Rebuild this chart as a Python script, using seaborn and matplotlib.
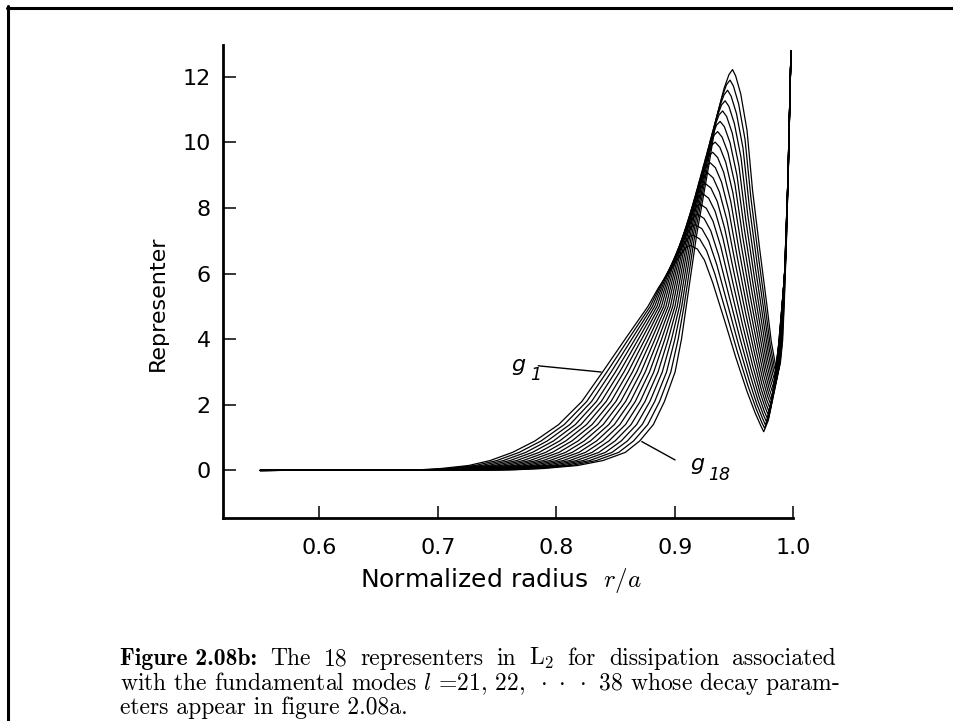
import matplotlib
matplotlib.use("Agg")
import matplotlib.pyplot as plt
from matplotlib.lines import Line2D
import pandas as pd
import seaborn as sns

# ---------------- data ----------------
CURVES = [f"g{k}" for k in range(1, 19)]
START_X, START_Y = 0.55, 0.0
END_X, END_Y = 0.998, 12.8

# rising flank: radius where each representer reaches the given level
RISE_Y = [0.02, 0.06, 0.15, 0.30, 0.55, 0.90, 1.40, 2.10, 3.00, 4.00, 5.00]
RX_002 = [0.6850, 0.6897, 0.6944, 0.6991, 0.7038, 0.7085, 0.7132, 0.7179, 0.7226, 0.7273, 0.7320, 0.7367, 0.7414, 0.7461, 0.7508, 0.7555, 0.7602, 0.7649]
RX_006 = [0.7030, 0.7081, 0.7132, 0.7183, 0.7234, 0.7285, 0.7336, 0.7387, 0.7438, 0.7489, 0.7540, 0.7591, 0.7642, 0.7693, 0.7744, 0.7795, 0.7846, 0.7897]
RX_015 = [0.7260, 0.7314, 0.7368, 0.7422, 0.7476, 0.7530, 0.7584, 0.7638, 0.7692, 0.7746, 0.7800, 0.7854, 0.7908, 0.7962, 0.8016, 0.8070, 0.8124, 0.8178]
RX_030 = [0.7440, 0.7496, 0.7552, 0.7608, 0.7664, 0.7720, 0.7776, 0.7832, 0.7888, 0.7944, 0.8000, 0.8056, 0.8112, 0.8168, 0.8224, 0.8280, 0.8336, 0.8392]
RX_055 = [0.7630, 0.7686, 0.7742, 0.7798, 0.7854, 0.7910, 0.7966, 0.8022, 0.8078, 0.8134, 0.8190, 0.8246, 0.8302, 0.8358, 0.8414, 0.8470, 0.8526, 0.8582]
RX_090 = [0.7820, 0.7872, 0.7924, 0.7976, 0.8028, 0.8080, 0.8132, 0.8184, 0.8236, 0.8288, 0.8340, 0.8392, 0.8444, 0.8496, 0.8548, 0.8600, 0.8652, 0.8704]
RX_140 = [0.8020, 0.8067, 0.8114, 0.8161, 0.8208, 0.8255, 0.8302, 0.8349, 0.8396, 0.8443, 0.8490, 0.8537, 0.8584, 0.8631, 0.8678, 0.8725, 0.8772, 0.8819]
RX_210 = [0.8215, 0.8256, 0.8297, 0.8338, 0.8379, 0.8420, 0.8461, 0.8502, 0.8543, 0.8584, 0.8625, 0.8666, 0.8707, 0.8748, 0.8789, 0.8830, 0.8871, 0.8912]
RX_300 = [0.8390, 0.8426, 0.8462, 0.8498, 0.8534, 0.8570, 0.8606, 0.8642, 0.8678, 0.8714, 0.8750, 0.8786, 0.8822, 0.8858, 0.8894, 0.8930, 0.8966, 0.9002]
RX_400 = [0.8580, 0.8608, 0.8636, 0.8664, 0.8692, 0.8720, 0.8748, 0.8776, 0.8804, 0.8832, 0.8860, 0.8888, 0.8916, 0.8944, 0.8972, 0.9000, 0.9028, 0.9056]
RX_500 = [0.8773, 0.8792, 0.8811, 0.8830, 0.8849, 0.8868, 0.8887, 0.8906, 0.8925, 0.8944, 0.8963, 0.8982, 0.9001, 0.9020, 0.9039, 0.9058, 0.9077, 0.9096]

# upper rising flank up to the peak
UX_1 = [0.8860, 0.8879, 0.8898, 0.8917, 0.8936, 0.8955, 0.8974, 0.8993, 0.9012, 0.9031, 0.9050, 0.9069, 0.9088, 0.9107, 0.9126, 0.9145, 0.9164, 0.9183]
UY_1 = [5.56, 5.65, 5.75, 5.84, 5.94, 6.03, 6.13, 6.22, 6.31, 6.41, 6.50, 6.60, 6.69, 6.79, 6.88, 6.98, 7.07, 7.16]
UX_2 = [0.8965, 0.8984, 0.9003, 0.9022, 0.9041, 0.9060, 0.9079, 0.9098, 0.9117, 0.9136, 0.9155, 0.9174, 0.9193, 0.9212, 0.9231, 0.9250, 0.9269, 0.9288]
UY_2 = [6.12, 6.31, 6.49, 6.68, 6.87, 7.06, 7.25, 7.44, 7.63, 7.82, 8.01, 8.19, 8.38, 8.57, 8.76, 8.95, 9.14, 9.33]
UX_3 = [0.9030, 0.9049, 0.9068, 0.9087, 0.9106, 0.9125, 0.9144, 0.9163, 0.9182, 0.9201, 0.9220, 0.9239, 0.9258, 0.9277, 0.9296, 0.9315, 0.9334, 0.9353]
UY_3 = [6.49, 6.74, 6.99, 7.24, 7.50, 7.75, 8.00, 8.25, 8.50, 8.76, 9.01, 9.26, 9.51, 9.76, 10.02, 10.27, 10.52, 10.77]
UX_4 = [0.9075, 0.9095, 0.9115, 0.9135, 0.9155, 0.9175, 0.9195, 0.9215, 0.9235, 0.9255, 0.9275, 0.9295, 0.9315, 0.9335, 0.9355, 0.9375, 0.9395, 0.9415]
UY_4 = [6.71, 7.00, 7.29, 7.58, 7.87, 8.16, 8.45, 8.74, 9.03, 9.32, 9.61, 9.90, 10.19, 10.48, 10.77, 11.06, 11.35, 11.64]
UX_5 = [0.9100, 0.9121, 0.9142, 0.9163, 0.9184, 0.9205, 0.9226, 0.9247, 0.9268, 0.9289, 0.9310, 0.9331, 0.9352, 0.9373, 0.9394, 0.9415, 0.9436, 0.9457]
UY_5 = [6.82, 7.13, 7.44, 7.75, 8.06, 8.37, 8.68, 8.98, 9.29, 9.60, 9.91, 10.22, 10.53, 10.84, 11.14, 11.45, 11.76, 12.07]
PEAK_X = [0.9130, 0.9151, 0.9172, 0.9193, 0.9214, 0.9235, 0.9256, 0.9277, 0.9298, 0.9319, 0.9340, 0.9361, 0.9382, 0.9403, 0.9424, 0.9445, 0.9466, 0.9487]
PEAK_Y = [6.86, 7.18, 7.49, 7.81, 8.12, 8.44, 8.75, 9.07, 9.38, 9.70, 10.01, 10.33, 10.64, 10.96, 11.27, 11.59, 11.90, 12.22]

# falling flank down to the minimum
FX_1 = [0.9190, 0.9209, 0.9228, 0.9247, 0.9266, 0.9285, 0.9304, 0.9323, 0.9342, 0.9361, 0.9380, 0.9399, 0.9418, 0.9437, 0.9456, 0.9475, 0.9494, 0.9513]
FY_1 = [6.75, 7.06, 7.37, 7.68, 7.99, 8.30, 8.61, 8.92, 9.23, 9.54, 9.85, 10.16, 10.48, 10.79, 11.10, 11.41, 11.72, 12.03]
FX_2 = [0.9250, 0.9268, 0.9286, 0.9304, 0.9322, 0.9340, 0.9358, 0.9376, 0.9394, 0.9412, 0.9430, 0.9448, 0.9466, 0.9484, 0.9502, 0.9520, 0.9538, 0.9556]
FY_2 = [6.41, 6.70, 7.00, 7.30, 7.60, 7.90, 8.20, 8.49, 8.79, 9.09, 9.39, 9.69, 9.99, 10.29, 10.58, 10.88, 11.18, 11.48]
FX_3 = [0.9320, 0.9337, 0.9354, 0.9371, 0.9388, 0.9405, 0.9422, 0.9439, 0.9456, 0.9473, 0.9490, 0.9507, 0.9524, 0.9541, 0.9558, 0.9575, 0.9592, 0.9609]
FY_3 = [5.72, 6.00, 6.27, 6.54, 6.82, 7.09, 7.36, 7.64, 7.91, 8.18, 8.46, 8.73, 9.00, 9.28, 9.55, 9.83, 10.10, 10.37]
FX_4 = [0.9418, 0.9432, 0.9446, 0.9460, 0.9474, 0.9488, 0.9502, 0.9516, 0.9530, 0.9544, 0.9558, 0.9572, 0.9586, 0.9600, 0.9614, 0.9628, 0.9642, 0.9656]
FY_4 = [4.59, 4.82, 5.05, 5.28, 5.52, 5.75, 5.98, 6.21, 6.44, 6.67, 6.91, 7.14, 7.37, 7.60, 7.83, 8.07, 8.30, 8.53]
FX_5 = [0.9514, 0.9526, 0.9538, 0.9550, 0.9562, 0.9574, 0.9586, 0.9598, 0.9610, 0.9622, 0.9634, 0.9646, 0.9658, 0.9670, 0.9682, 0.9694, 0.9706, 0.9718]
FY_5 = [3.45, 3.64, 3.83, 4.02, 4.21, 4.40, 4.59, 4.78, 4.97, 5.16, 5.35, 5.54, 5.73, 5.92, 6.11, 6.31, 6.50, 6.69]
FX_6 = [0.9607, 0.9617, 0.9627, 0.9637, 0.9647, 0.9657, 0.9667, 0.9677, 0.9687, 0.9697, 0.9707, 0.9717, 0.9727, 0.9737, 0.9747, 0.9757, 0.9767, 0.9777]
FY_6 = [2.43, 2.58, 2.74, 2.89, 3.04, 3.19, 3.35, 3.50, 3.65, 3.81, 3.96, 4.11, 4.26, 4.42, 4.57, 4.72, 4.87, 5.03]
FX_7 = [0.9678, 0.9686, 0.9694, 0.9702, 0.9710, 0.9718, 0.9726, 0.9734, 0.9742, 0.9750, 0.9758, 0.9766, 0.9774, 0.9782, 0.9790, 0.9798, 0.9806, 0.9814]
FY_7 = [1.75, 1.88, 2.00, 2.13, 2.26, 2.39, 2.51, 2.64, 2.77, 2.90, 3.03, 3.15, 3.28, 3.41, 3.54, 3.67, 3.79, 3.92]
FX_8 = [0.9727, 0.9734, 0.9741, 0.9748, 0.9755, 0.9762, 0.9769, 0.9776, 0.9783, 0.9790, 0.9797, 0.9804, 0.9811, 0.9818, 0.9825, 0.9832, 0.9839, 0.9846]
FY_8 = [1.35, 1.46, 1.58, 1.69, 1.80, 1.92, 2.03, 2.14, 2.26, 2.37, 2.48, 2.60, 2.71, 2.82, 2.94, 3.05, 3.16, 3.28]
MIN_X = [0.9750, 0.9757, 0.9764, 0.9771, 0.9778, 0.9785, 0.9792, 0.9799, 0.9806, 0.9813, 0.9820, 0.9827, 0.9834, 0.9841, 0.9848, 0.9855, 0.9862, 0.9869]
MIN_Y = [1.18, 1.29, 1.39, 1.50, 1.61, 1.72, 1.82, 1.93, 2.04, 2.14, 2.25, 2.36, 2.46, 2.57, 2.68, 2.79, 2.89, 3.00]

# steep branch towards the surface
RTX_1 = [0.9789, 0.9795, 0.9801, 0.9807, 0.9813, 0.9819, 0.9825, 0.9831, 0.9837, 0.9843, 0.9849, 0.9855, 0.9861, 0.9867, 0.9873, 0.9879, 0.9885, 0.9891]
RTY_1 = [1.53, 1.63, 1.74, 1.84, 1.94, 2.05, 2.15, 2.26, 2.36, 2.46, 2.57, 2.67, 2.77, 2.88, 2.98, 3.09, 3.19, 3.29]
RTX_2 = [0.9825, 0.9830, 0.9835, 0.9840, 0.9845, 0.9850, 0.9855, 0.9860, 0.9865, 0.9870, 0.9875, 0.9880, 0.9885, 0.9890, 0.9895, 0.9900, 0.9905, 0.9910]
RTY_2 = [2.34, 2.44, 2.53, 2.63, 2.73, 2.82, 2.92, 3.02, 3.11, 3.21, 3.31, 3.40, 3.50, 3.59, 3.69, 3.79, 3.88, 3.98]
RTX_3 = [0.9873, 0.9876, 0.9879, 0.9882, 0.9885, 0.9888, 0.9891, 0.9894, 0.9897, 0.9900, 0.9903, 0.9906, 0.9909, 0.9912, 0.9915, 0.9918, 0.9921, 0.9924]
RTY_3 = [3.74, 3.82, 3.90, 3.99, 4.07, 4.15, 4.24, 4.32, 4.40, 4.49, 4.57, 4.65, 4.74, 4.82, 4.91, 4.99, 5.07, 5.16]
RTX_4 = [0.9924, 0.9925, 0.9926, 0.9927, 0.9928, 0.9929, 0.9930, 0.9931, 0.9932, 0.9933, 0.9934, 0.9935, 0.9936, 0.9937, 0.9938, 0.9939, 0.9940, 0.9941]
RTY_4 = [5.83, 5.89, 5.96, 6.02, 6.08, 6.15, 6.21, 6.28, 6.34, 6.41, 6.47, 6.53, 6.60, 6.66, 6.73, 6.79, 6.86, 6.92]
RTX_5 = [0.9953, 0.9953, 0.9954, 0.9954, 0.9954, 0.9955, 0.9955, 0.9955, 0.9956, 0.9956, 0.9957, 0.9957, 0.9957, 0.9958, 0.9958, 0.9958, 0.9959, 0.9959]
RTY_5 = [8.73, 8.77, 8.81, 8.85, 8.88, 8.92, 8.96, 9.00, 9.03, 9.07, 9.11, 9.15, 9.18, 9.22, 9.26, 9.30, 9.33, 9.37]

X_TICKS = [0.6, 0.7, 0.8, 0.9, 1.0]
Y_TICKS = [0, 2, 4, 6, 8, 10, 12]

# curve labels: text anchor and leader-line ends (data units)
G1_TEXT, G1_SUB, G1_LINE = (0.7619, 3.03), (0.7779, 2.76), [(0.7847, 3.19), (0.8378, 3.00)]
G18_TEXT, G18_SUB, G18_LINE = (0.9128, 0.02), (0.9280, -0.29), [(0.9002, 0.32), (0.8721, 0.88)]

CAPTION_BOLD = "Figure 2.08b:"
CAPTION_LINE1_WORDS = ["The", "18", "representers", "in", r"$\mathrm{L}_2$", "for",
                       "dissipation", "associated"]
CAPTION_LINE2 = r"with the fundamental modes $l$ =21, 22,  $\cdot\ \cdot\ \cdot$ 38 whose decay param-"
CAPTION_LINE3 = "eters appear in figure 2.08a."

# ---------------- assemble long table ----------------
rise_cols = [RX_002, RX_006, RX_015, RX_030, RX_055, RX_090, RX_140, RX_210, RX_300, RX_400, RX_500]
x_cols = [UX_1, UX_2, UX_3, UX_4, UX_5, PEAK_X, FX_1, FX_2, FX_3, FX_4, FX_5, FX_6, FX_7, FX_8,
          MIN_X, RTX_1, RTX_2, RTX_3, RTX_4, RTX_5]
y_cols = [UY_1, UY_2, UY_3, UY_4, UY_5, PEAK_Y, FY_1, FY_2, FY_3, FY_4, FY_5, FY_6, FY_7, FY_8,
          MIN_Y, RTY_1, RTY_2, RTY_3, RTY_4, RTY_5]

rows = []
for k, name in enumerate(CURVES):
    xs = [START_X] + [c[k] for c in rise_cols] + [c[k] for c in x_cols] + [END_X]
    ys = [START_Y] + list(RISE_Y) + [c[k] for c in y_cols] + [END_Y]
    for i, (xv, yv) in enumerate(zip(xs, ys)):
        rows.append({"curve": name, "order": i, "r": xv, "g": yv})
df = pd.DataFrame(rows)

# ---------------- styling ----------------
sns.set_style("ticks")
plt.rcParams["font.family"] = ["DejaVu Sans"]
plt.rcParams["text.color"] = "black"

fig = plt.figure(figsize=(9.54, 7.21), dpi=100)
ax = fig.add_axes([0.2341, 0.2811, 0.5975, 0.6565])

sns.lineplot(data=df, x="r", y="g", units="curve", estimator=None, sort=False,
             color="black", linewidth=0.9, legend=False, ax=ax)

ax.set_xlim(0.519, 1.0)
ax.set_ylim(-1.46, 12.97)
ax.set_xticks(X_TICKS)
ax.set_yticks(Y_TICKS)
ax.set_xticklabels([f"{v:.1f}" for v in X_TICKS])
ax.set_yticklabels([str(v) for v in Y_TICKS])
ax.tick_params(axis="both", direction="in", length=9, width=1.1, colors="black",
               labelsize=16, labelcolor="black")
ax.tick_params(axis="x", pad=14)
ax.tick_params(axis="y", pad=9)
for side in ["top", "right"]:
    ax.spines[side].set_visible(False)
for side in ["left", "bottom"]:
    ax.spines[side].set_linewidth(2.0)
    ax.spines[side].set_color("black")

ax.set_xlabel(r"Normalized radius  $r/a$", fontsize=18, color="black")
ax.xaxis.label.set_math_fontfamily("cm")
ax.xaxis.set_label_coords(0.487, -0.101)
ax.xaxis.label.set_va("top")
ax.set_ylabel("Representer", fontsize=16, color="black")
ax.yaxis.set_label_coords(-0.098, 0.454)

# curve labels with leader lines
ax.text(*G1_TEXT, "g", fontsize=16, style="italic", ha="left", va="baseline")
ax.text(*G1_SUB, "1", fontsize=12.5, style="italic", ha="left", va="baseline")
ax.annotate("", xy=G1_LINE[1], xytext=G1_LINE[0],
            arrowprops=dict(arrowstyle="-", lw=1.0, color="black", shrinkA=0, shrinkB=0))
ax.text(*G18_TEXT, "g", fontsize=16, style="italic", ha="left", va="baseline")
ax.text(*G18_SUB, "18", fontsize=12.5, style="italic", ha="left", va="baseline")
ax.annotate("", xy=G18_LINE[1], xytext=G18_LINE[0],
            arrowprops=dict(arrowstyle="-", lw=1.0, color="black", shrinkA=0, shrinkB=0))

# caption (first line justified to the block width)
cap_size = 17
left_px, right_px = 120.0, 836.0
W = fig.bbox.width
base_y = [1 - 665 / 721, 1 - 690 / 721, 1 - 714 / 721]
cap_kw = dict(fontfamily=["cmr10", "DejaVu Serif"], math_fontfamily="cm", fontsize=cap_size,
              ha="left", va="baseline", color="black")
renderer = fig.canvas.get_renderer()
pieces = [fig.text(0, base_y[0], CAPTION_BOLD, fontfamily=["cmb10", "DejaVu Serif"],
                   fontsize=cap_size, ha="left", va="baseline", color="black")]
pieces += [fig.text(0, base_y[0], w, **cap_kw) for w in CAPTION_LINE1_WORDS]
widths = [p.get_window_extent(renderer).width for p in pieces]
gap = (right_px - left_px - sum(widths)) / (len(pieces) - 1)
xpos = left_px
for p, w in zip(pieces, widths):
    p.set_x(xpos / W)
    xpos += w + gap
fig.text(left_px / W, base_y[1], CAPTION_LINE2, **cap_kw)
fig.text(left_px / W, base_y[2], CAPTION_LINE3, **cap_kw)

# scan frame (top and left edges)
fig.add_artist(Line2D([7 / 954, 1.0], [1 - 7.5 / 721, 1 - 7.5 / 721],
                      transform=fig.transFigure, color="black", lw=2.2))
fig.add_artist(Line2D([8 / 954, 8 / 954], [1 - 6 / 721, 0.0],
                      transform=fig.transFigure, color="black", lw=2.2))

fig.savefig("out.png", dpi=100, facecolor="white")
